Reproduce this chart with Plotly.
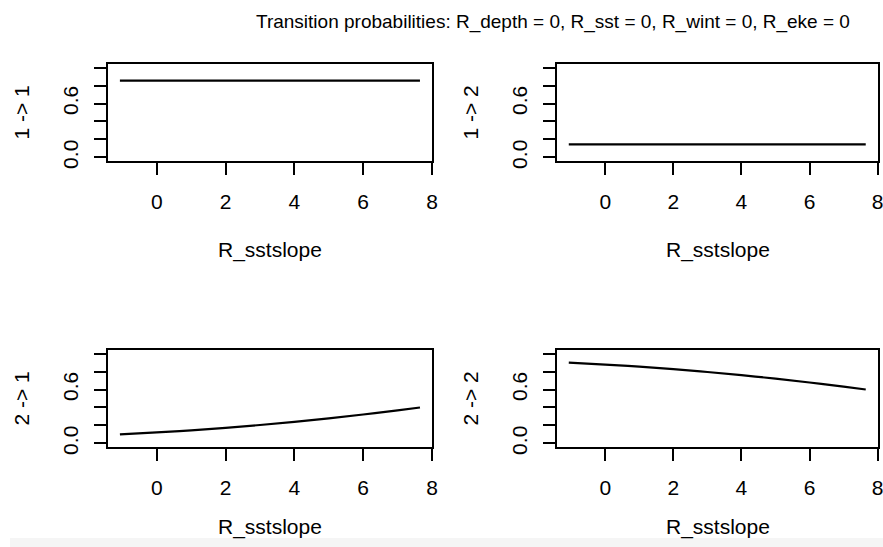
import plotly.graph_objects as go

# Covariate grid along R_sstslope (others held at 0)
sstslope = [-1.07, 0.0, 1.0, 2.0, 3.0, 4.0, 5.0, 6.0, 7.0, 7.65]

# Transition probabilities between the two states
p_1_1 = [0.855, 0.855, 0.855, 0.855, 0.855, 0.855, 0.855, 0.855, 0.855, 0.855]
p_1_2 = [0.145, 0.145, 0.145, 0.145, 0.145, 0.145, 0.145, 0.145, 0.145, 0.145]
p_2_1 = [0.100, 0.122, 0.146, 0.174, 0.205, 0.240, 0.279, 0.322, 0.368, 0.400]
p_2_2 = [0.900, 0.878, 0.854, 0.826, 0.795, 0.760, 0.721, 0.678, 0.632, 0.600]

panel_names = ["1 -> 1", "1 -> 2", "2 -> 1", "2 -> 2"]
panel_series = [p_1_1, p_1_2, p_2_1, p_2_2]

x_ticks = [0, 2, 4, 6, 8]
y_ticks = [0.0, 0.2, 0.4, 0.6, 0.8, 1.0]
y_tick_text = ["0.0", "", "", "0.6", "", ""]

title_text = "Transition probabilities: R_depth = 0, R_sst = 0, R_wint = 0, R_eke = 0"
x_title = "R_sstslope"

W, H = 883, 547
FONT = "Liberation Sans, Arial, Helvetica, sans-serif"

# Panel boxes in pixels: (left, right, top, bottom, x-title offset, x max)
boxes = [
    (108, 432, 64, 161, 89, 8.0),
    (557, 878, 64, 161, 89, 8.01),
    (108, 432, 350, 447, 80, 8.0),
    (557, 878, 350, 447, 80, 8.01),
]

fig = go.Figure()
annotations = []
layout_axes = {}

for i, (name, ys, box) in enumerate(zip(panel_names, panel_series, boxes)):
    left, right, top, bottom, xt_off, xmax = box
    k = "" if i == 0 else str(i + 1)
    fig.add_trace(go.Scatter(
        x=sstslope, y=ys, mode="lines",
        line=dict(color="black", width=2.2, shape="spline"),
        xaxis="x" + k, yaxis="y" + k, showlegend=False, hoverinfo="skip",
    ))
    layout_axes["xaxis" + k] = dict(
        domain=[left / W, right / W], anchor="y" + k,
        range=[-1.416, xmax], tickvals=x_ticks, automargin=False,
        ticklabeloverflow="allow",
        showline=True, mirror=True, linecolor="black", linewidth=1.5,
        ticks="outside", ticklen=12, tickwidth=1.5, tickcolor="black",
        ticklabelstandoff=9,
        showgrid=False, zeroline=False,
        tickfont=dict(family=FONT, size=21, color="black"),
    )
    layout_axes["yaxis" + k] = dict(
        domain=[1 - bottom / H, 1 - top / H], anchor="x" + k,
        range=[-0.04, 1.04], tickvals=y_ticks, ticktext=y_tick_text,
        tickangle=-90, automargin=False,
        showline=True, mirror=True, linecolor="black", linewidth=1.5,
        ticks="outside", ticklen=12, tickwidth=1.5, tickcolor="black",
        ticklabelstandoff=8,
        showgrid=False, zeroline=False,
        tickfont=dict(family=FONT, size=21, color="black"),
    )
    # axis titles
    annotations.append(dict(
        text=x_title, xref="paper", yref="paper",
        x=(left + right) / 2 / W, y=1 - (bottom + xt_off) / H,
        xanchor="center", yanchor="middle", showarrow=False,
        font=dict(family=FONT, size=21, color="black"),
    ))
    annotations.append(dict(
        text=name, xref="paper", yref="paper", textangle=-90,
        x=(left - 87) / W, y=1 - (top + bottom) / 2 / H,
        xanchor="center", yanchor="middle", showarrow=False,
        font=dict(family=FONT, size=21, color="black"),
    ))

annotations.append(dict(
    text=title_text, xref="paper", yref="paper",
    x=553 / W, y=1 - 22 / H, xanchor="center", yanchor="middle",
    showarrow=False, font=dict(family=FONT, size=19, color="black"),
))

fig.update_layout(
    width=W, height=H,
    margin=dict(l=0, r=0, t=0, b=0, autoexpand=False),
    paper_bgcolor="white", plot_bgcolor="white",
    annotations=annotations,
    shapes=[dict(type="rect", xref="paper", yref="paper",
                 x0=10 / W, x1=1, y0=0, y1=9 / H,
                 fillcolor="#f5f5f5", line=dict(width=0), layer="below")],
    **layout_axes,
)

fig.write_html("out.html")
